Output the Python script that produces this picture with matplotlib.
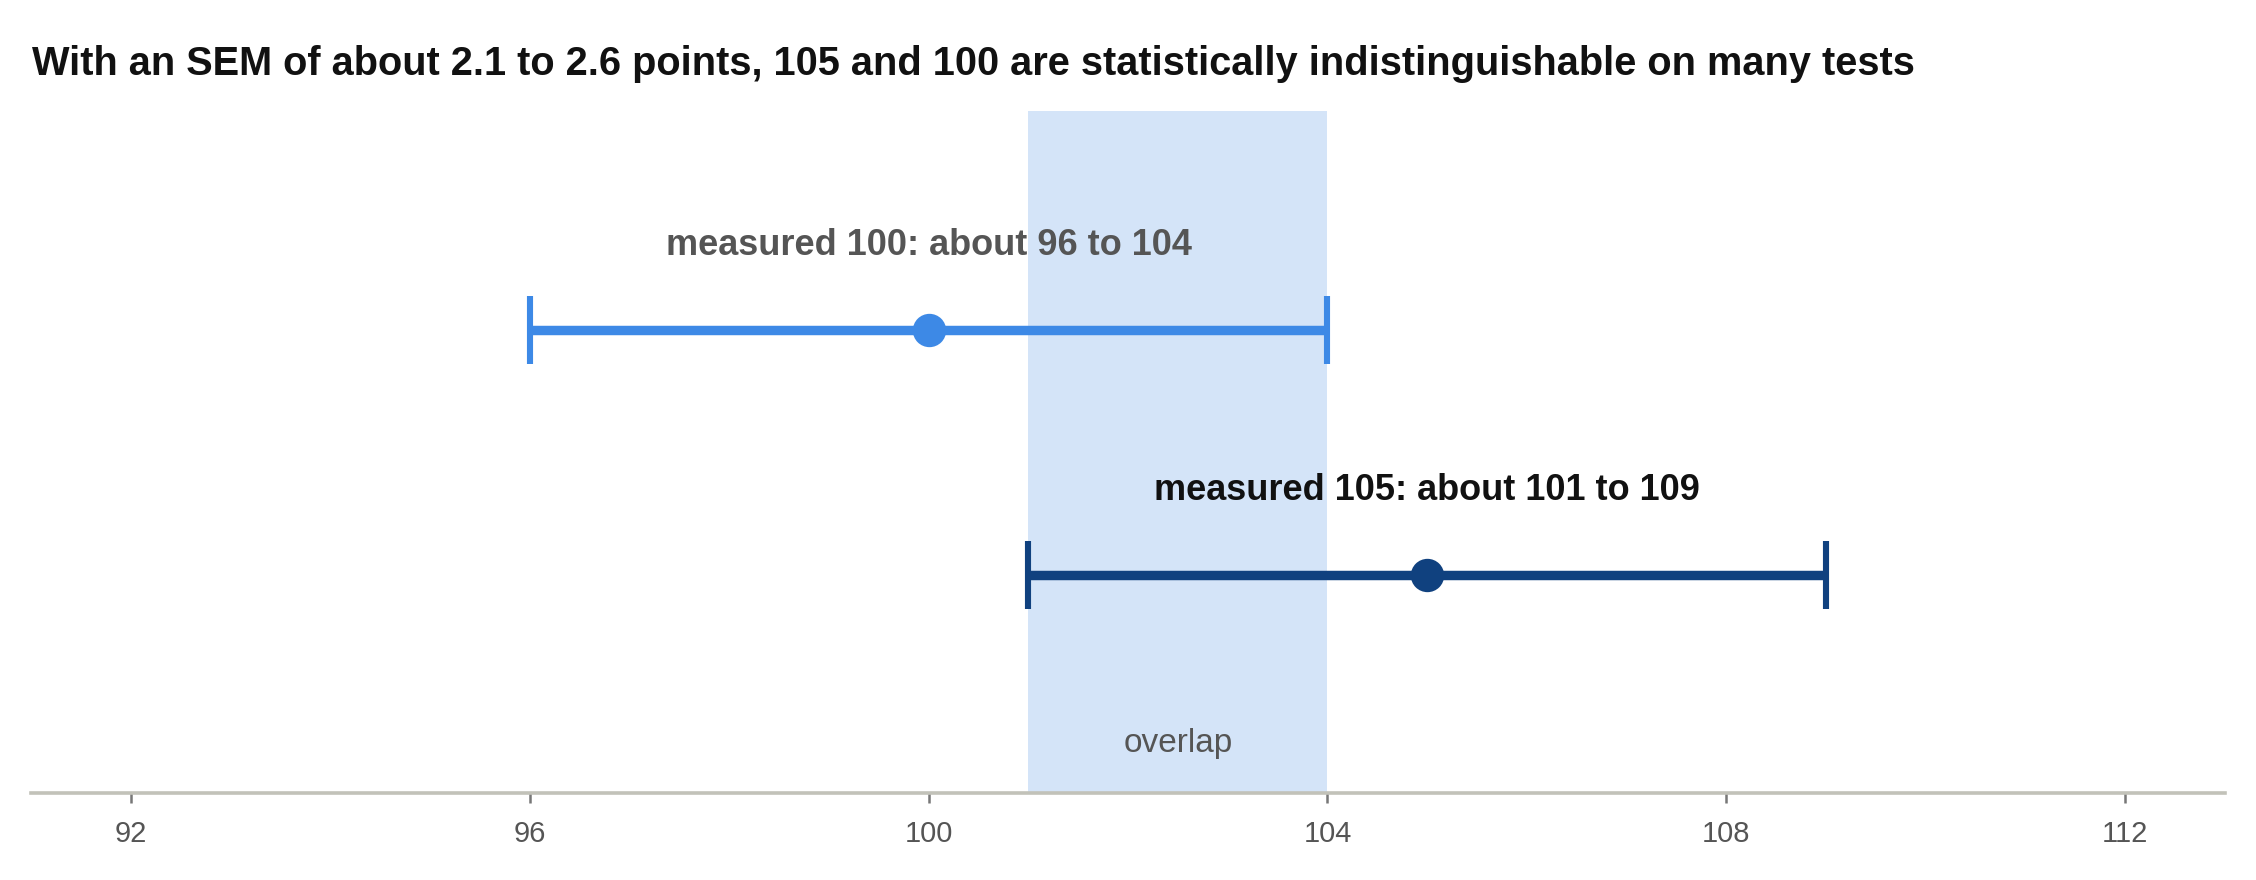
import matplotlib
matplotlib.use("Agg")
import matplotlib.pyplot as plt

plt.rcParams['font.family'] = ['Liberation Sans', 'DejaVu Sans']

# Data
labels = ["measured 100: about 96 to 104", "measured 105: about 101 to 109"]
measured = [100, 105]
lower = [96, 101]
upper = [104, 109]
row_pos = [1, 0]
overlap_lo, overlap_hi = 101, 104
xticks = [92, 96, 100, 104, 108, 112]
title = "With an SEM of about 2.1 to 2.6 points, 105 and 100 are statistically indistinguishable on many tests"

colors = ["#3d89e6", "#10417f"]
label_colors = ["#555555", "#111111"]

fig = plt.figure(figsize=(11.28, 4.4), dpi=200)
ax = fig.add_axes([31/2256, 1-793/880, 2194/2256, (793-111)/880])

ax.axvspan(overlap_lo, overlap_hi, color="#d4e4f8", zorder=0, lw=0)

for m, lo, hi, y, c, lab, lc in zip(measured, lower, upper, row_pos, colors, labels, label_colors):
    ax.errorbar([m], [y], xerr=[[m - lo], [hi - m]], fmt='o', color=c,
                ms=11, elinewidth=3.4, capsize=12.3, capthick=2.2, zorder=3)
    ax.text(m, y + 0.306, lab, ha='center', va='baseline', fontsize=13,
            fontweight='bold', color=lc)

ax.text((overlap_lo + overlap_hi) / 2, -0.722, "overlap", ha='center', va='baseline',
        fontsize=12, color="#555555")

ax.set_xlim(91, 113)
ax.set_ylim(-0.89, 1.894)
ax.set_xticks(xticks)
ax.set_xticklabels([str(t) for t in xticks])
ax.set_yticks([])
for s in ['top', 'right', 'left']:
    ax.spines[s].set_visible(False)
ax.spines['bottom'].set_color("#c2c2b9")
ax.spines['bottom'].set_linewidth(1.3)
ax.tick_params(axis='x', length=3.6, width=0.9, color="#777777", labelcolor="#555555",
               labelsize=10.5, pad=6.0)

fig.text(32/2256, 1-75/880, title, ha='left', va='baseline', fontsize=14.3,
         fontweight='bold', color="#111111")

fig.savefig("out.png", dpi=200, facecolor="white")
